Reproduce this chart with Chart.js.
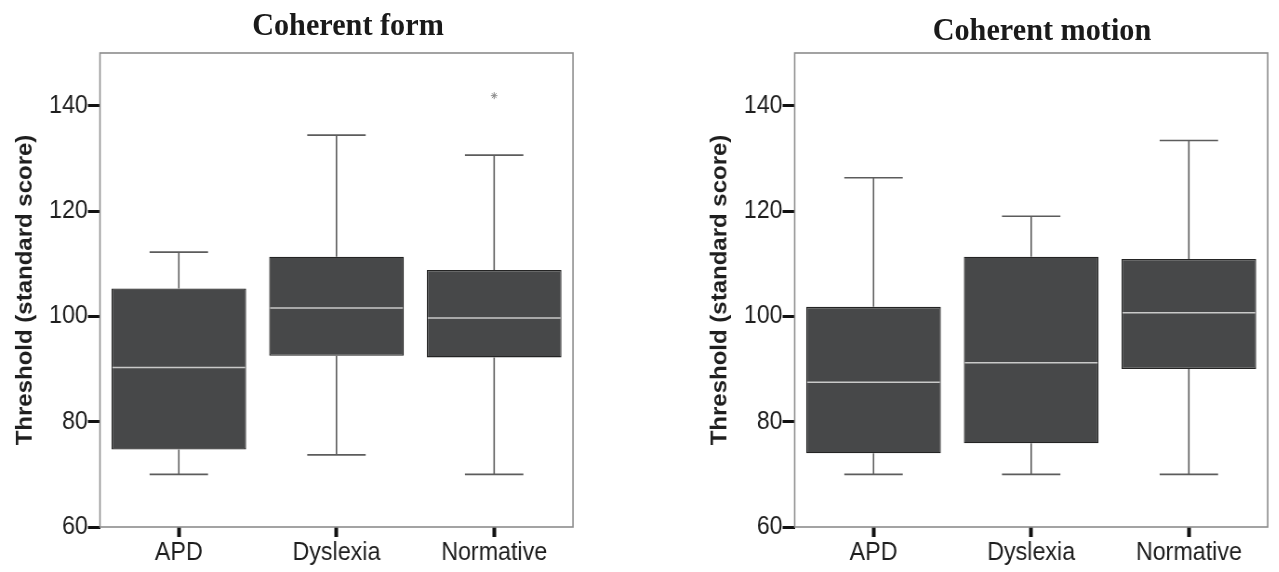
<!DOCTYPE html>
<html><head><meta charset="utf-8">
<script src="https://cdn.jsdelivr.net/npm/chart.js@4.4.1/dist/chart.umd.min.js"></script>
<style>
html,body{margin:0;padding:0;background:#fff;width:1279px;height:572px;overflow:hidden;position:relative}
#wrap{position:absolute;left:0;top:0;width:1376px;height:572px;transform:scaleX(0.93);transform-origin:0 0}
.panel{position:absolute;top:0;height:572px}
.title{position:absolute;font-family:"Liberation Serif","Times New Roman",serif;font-weight:bold;font-size:32.5px;color:#1a1a1a;white-space:nowrap;transform:translate(-50%,-50%);line-height:normal}
</style></head><body>
<div id="wrap">
<div class="title" style="left:374.2px;top:23.5px">Coherent form</div>
<div class="title" style="left:1120.4px;top:28.5px">Coherent motion</div>
<div class="panel" style="left:0;width:688px"><canvas id="c1" width="688" height="572"></canvas></div>
<div class="panel" style="left:747.3px;width:628px"><canvas id="c2" width="628" height="572"></canvas></div>
</div>
<script>
// ---- data ----
const categories = ['APD', 'Dyslexia', 'Normative'];
const yTicks = [60, 80, 100, 120, 140];
const yMin = 60, yMax = 150;
const yAxisTitle = 'Threshold (standard score)';

// Coherent form
const formLower  = [70.0, 73.7, 70.0];
const formQ1     = [74.7, 92.5, 92.2];
const formMedian = [90.3, 101.6, 99.7];
const formQ3     = [105.3, 111.3, 108.8];
const formUpper  = [112.2, 134.4, 130.6];
const formOutliers = [null, null, 141.9];

// Coherent motion
const motionLower  = [70.0, 70.0, 70.0];
const motionQ1     = [74.0, 75.9, 90.0];
const motionMedian = [87.5, 91.2, 100.7];
const motionQ3     = [101.8, 111.3, 110.9];
const motionUpper  = [126.3, 119.0, 133.4];
const motionOutliers = [null, null, null];

// ---- styles ----
const BOX_FILL = '#474849';
const BOX_EDGE = '#242424';
const WHISKER = '#5c5c5c';
const MEDIAN = '#c9c9c9';
const FRAME = '#8c8c8c';
const TEXT = '#1e1e1e';
const SANS = '"Liberation Sans", Arial, sans-serif';

function boxPlugin(lower, median, upper) {
  return {
    id: 'boxExtras',
    afterDatasetsDraw(chart) {
      const ctx = chart.ctx, y = chart.scales.y;
      const meta = chart.getDatasetMeta(0);
      ctx.save();
      meta.data.forEach((bar, i) => {
        const x = bar.x, half = bar.width / 2, cap = bar.width * 0.217;
        const yTop = Math.min(bar.y, bar.base), yBot = Math.max(bar.y, bar.base);
        const yu = y.getPixelForValue(upper[i]), yl = y.getPixelForValue(lower[i]);
        ctx.strokeStyle = WHISKER; ctx.lineWidth = 1.6;
        ctx.beginPath();
        ctx.moveTo(x, yTop); ctx.lineTo(x, yu);
        ctx.moveTo(x - cap, yu); ctx.lineTo(x + cap, yu);
        ctx.moveTo(x, yBot); ctx.lineTo(x, yl);
        ctx.moveTo(x - cap, yl); ctx.lineTo(x + cap, yl);
        ctx.stroke();
        const ym = y.getPixelForValue(median[i]);
        ctx.strokeStyle = MEDIAN; ctx.lineWidth = 1.5;
        ctx.beginPath();
        ctx.moveTo(x - half + 1, ym); ctx.lineTo(x + half - 1, ym);
        ctx.stroke();
      });
      ctx.restore();
    },
    afterDraw(chart) {
      const a = chart.chartArea, ctx = chart.ctx;
      ctx.save();
      ctx.strokeStyle = FRAME; ctx.lineWidth = 1.6;
      ctx.strokeRect(a.left, a.top, a.right - a.left, a.bottom - a.top);
      ctx.restore();
    }
  };
}

function makeChart(id, lower, q1, median, q3, upper, outliers, padRight) {
  return new Chart(document.getElementById(id), {
    type: 'bar',
    data: {
      labels: categories,
      datasets: [{
        data: q1.map((v, i) => [v, q3[i]]),
        backgroundColor: BOX_FILL,
        borderColor: BOX_EDGE,
        borderWidth: 1.3,
        borderSkipped: false,
        barPercentage: 0.854,
        categoryPercentage: 1.0
      }, {
        type: 'line',
        data: outliers,
        showLine: false,
        pointStyle: 'star',
        pointRadius: 3.5,
        pointBorderColor: '#8a8a8a',
        pointBackgroundColor: '#8a8a8a',
        pointBorderWidth: 1
      }]
    },
    options: {
      responsive: false,
      animation: false,
      devicePixelRatio: 1,
      layout: { padding: { left: 8.5, right: padRight, top: 53, bottom: 0 } },
      plugins: { legend: { display: false }, tooltip: { enabled: false }, title: { display: false } },
      scales: {
        x: {
          offset: true,
          border: { display: false },
          grid: { display: true, drawOnChartArea: false, drawTicks: true, tickLength: 10, tickWidth: 4, tickColor: '#111', offset: false },
          ticks: { color: TEXT, padding: 1, font: { family: SANS, size: 25 } },
          afterFit(s) { s.height = 45; }
        },
        y: {
          min: yMin, max: yMax,
          border: { display: false },
          grid: { display: true, drawOnChartArea: false, drawTicks: true, tickLength: 13, tickWidth: 3, tickColor: '#111' },
          ticks: { color: TEXT, padding: 0, font: { family: SANS, size: 25 } },
          afterBuildTicks(s) { s.ticks = yTicks.map(v => ({ value: v })); },
          afterFit(s) { s.width = 99; },
          title: { display: true, text: yAxisTitle, color: TEXT, padding: { top: 4, bottom: 4 },
                   font: { family: SANS, size: 24, weight: 'bold' } }
        }
      }
    },
    plugins: [boxPlugin(lower, median, upper)]
  });
}

makeChart('c1', formLower, formQ1, formMedian, formQ3, formUpper, formOutliers, 71.9);
makeChart('c2', motionLower, motionQ1, motionMedian, motionQ3, motionUpper, motionOutliers, 11.9);
</script>
</body></html>
